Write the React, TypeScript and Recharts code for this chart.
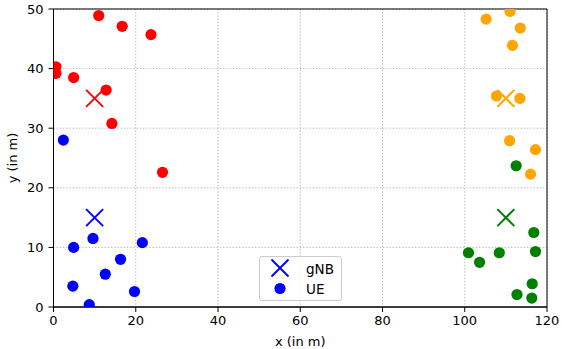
import React from 'react';
import { ScatterChart, Scatter, XAxis, YAxis, CartesianGrid, ReferenceArea } from 'recharts';

const xTicks = [0, 20, 40, 60, 80, 100, 120];
const yTicks = [0, 10, 20, 30, 40, 50];

const redGnb = [{ x: 10, y: 35 }];
const blueGnb = [{ x: 10, y: 15 }];
const orangeGnb = [{ x: 110, y: 35 }];
const greenGnb = [{ x: 110, y: 15 }];

const redUe = [
  { x: 11.0, y: 48.9 }, { x: 16.7, y: 47.1 }, { x: 23.7, y: 45.7 },
  { x: 0.6, y: 40.3 }, { x: 0.6, y: 39.2 }, { x: 4.9, y: 38.5 },
  { x: 12.8, y: 36.4 }, { x: 14.2, y: 30.8 }, { x: 26.5, y: 22.6 },
];
const blueUe = [
  { x: 2.4, y: 28.0 }, { x: 9.6, y: 11.5 }, { x: 4.9, y: 10.0 },
  { x: 21.6, y: 10.8 }, { x: 16.3, y: 8.0 }, { x: 12.6, y: 5.5 },
  { x: 4.7, y: 3.5 }, { x: 19.7, y: 2.6 }, { x: 8.7, y: 0.4 },
];
const orangeUe = [
  { x: 105.2, y: 48.3 }, { x: 111.0, y: 49.6 }, { x: 113.5, y: 46.8 },
  { x: 111.6, y: 43.9 }, { x: 107.7, y: 35.4 }, { x: 113.4, y: 35.0 },
  { x: 110.9, y: 27.9 }, { x: 117.2, y: 26.4 }, { x: 116.0, y: 22.3 },
];
const greenUe = [
  { x: 112.5, y: 23.7 }, { x: 116.8, y: 12.5 }, { x: 100.9, y: 9.1 },
  { x: 103.6, y: 7.5 }, { x: 108.4, y: 9.1 }, { x: 117.2, y: 9.3 },
  { x: 116.4, y: 3.9 }, { x: 112.7, y: 2.1 }, { x: 116.3, y: 1.5 },
];

const FONT = 'DejaVu Sans, sans-serif';

const dot = (color: string) => (props: any) => (
  <circle cx={props.cx} cy={props.cy} r={5.6} fill={color} />
);
const cross = (color: string) => (props: any) => {
  const s = 8.5;
  const { cx, cy } = props;
  return (
    <g stroke={color} strokeWidth={2}>
      <line x1={cx - s} y1={cy - s} x2={cx + s} y2={cy + s} />
      <line x1={cx - s} y1={cy + s} x2={cx + s} y2={cy - s} />
    </g>
  );
};

const YLabel = (props: any) => {
  const vb = props.viewBox;
  const cy = vb.y + vb.height / 2;
  return (
    <text x={12} y={cy} transform={`rotate(-90 12 ${cy})`} textAnchor="middle" dominantBaseline="central" fontSize={13} fontFamily={FONT} fill="#000">
      y (in m)
    </text>
  );
};

export default function App() {
  const tickStyle = { fontSize: 13, fontFamily: FONT, fill: '#000' };
  return (
    <div style={{ position: 'absolute', left: 0, top: 0, width: 562, height: 349, background: '#fff' }}>
      <ScatterChart width={562} height={349} margin={{ top: 9, right: 15, left: 0, bottom: 0 }}>
        <CartesianGrid stroke="#b0b0b0" strokeDasharray="1.2 2" />
        <XAxis
          type="number" dataKey="x" domain={[0, 120]} ticks={xTicks} allowDataOverflow
          height={42} tickSize={5} tickMargin={4} tick={tickStyle}
          stroke="#000" tickLine={{ stroke: '#000' }}
          label={{ value: 'x (in m)', position: 'insideBottom', offset: 3, style: { fontSize: 13, fontFamily: FONT, fill: '#000' } }}
        />
        <YAxis
          type="number" dataKey="y" domain={[0, 50]} ticks={yTicks} allowDataOverflow
          width={53.5} tickSize={5} tickMargin={5} tick={tickStyle}
          stroke="#000" tickLine={{ stroke: '#000' }}
          label={<YLabel />}
        />
        <ReferenceArea x1={0} x2={120} y1={0} y2={50} fill="none" stroke="#000" strokeOpacity={1} />
        <Scatter data={redUe} fill="#ff0000" shape={dot('#ff0000')} isAnimationActive={false} />
        <Scatter data={blueUe} fill="#0000ff" shape={dot('#0000ff')} isAnimationActive={false} />
        <Scatter data={orangeUe} fill="#ffa500" shape={dot('#ffa500')} isAnimationActive={false} />
        <Scatter data={greenUe} fill="#008000" shape={dot('#008000')} isAnimationActive={false} />
        <Scatter data={redGnb} fill="#ff0000" shape={cross('#ff0000')} isAnimationActive={false} />
        <Scatter data={blueGnb} fill="#0000ff" shape={cross('#0000ff')} isAnimationActive={false} />
        <Scatter data={orangeGnb} fill="#ffa500" shape={cross('#ffa500')} isAnimationActive={false} />
        <Scatter data={greenGnb} fill="#008000" shape={cross('#008000')} isAnimationActive={false} />
      </ScatterChart>
      <div style={{
        position: 'absolute', left: 259, top: 256, width: 83, height: 45, boxSizing: 'border-box',
        border: '1px solid #cccccc', borderRadius: 3, background: 'rgba(255,255,255,0.8)',
        fontFamily: FONT, fontSize: 13, color: '#000',
      }}>
        <svg width={83} height={45} style={{ position: 'absolute', left: -1, top: -1 }}>
          <g stroke="#0000ff" strokeWidth={2}>
            <line x1={12.5} y1={3.5} x2={29.5} y2={20.5} />
            <line x1={12.5} y1={20.5} x2={29.5} y2={3.5} />
          </g>
          <circle cx={21} cy={32.5} r={5.6} fill="#0000ff" />
          <text x={47} y={12.5} dominantBaseline="central" fontSize={13.5} fontFamily={FONT} fill="#000">gNB</text>
          <text x={47} y={32.5} dominantBaseline="central" fontSize={13.5} fontFamily={FONT} fill="#000">UE</text>
        </svg>
      </div>
    </div>
  );
}
